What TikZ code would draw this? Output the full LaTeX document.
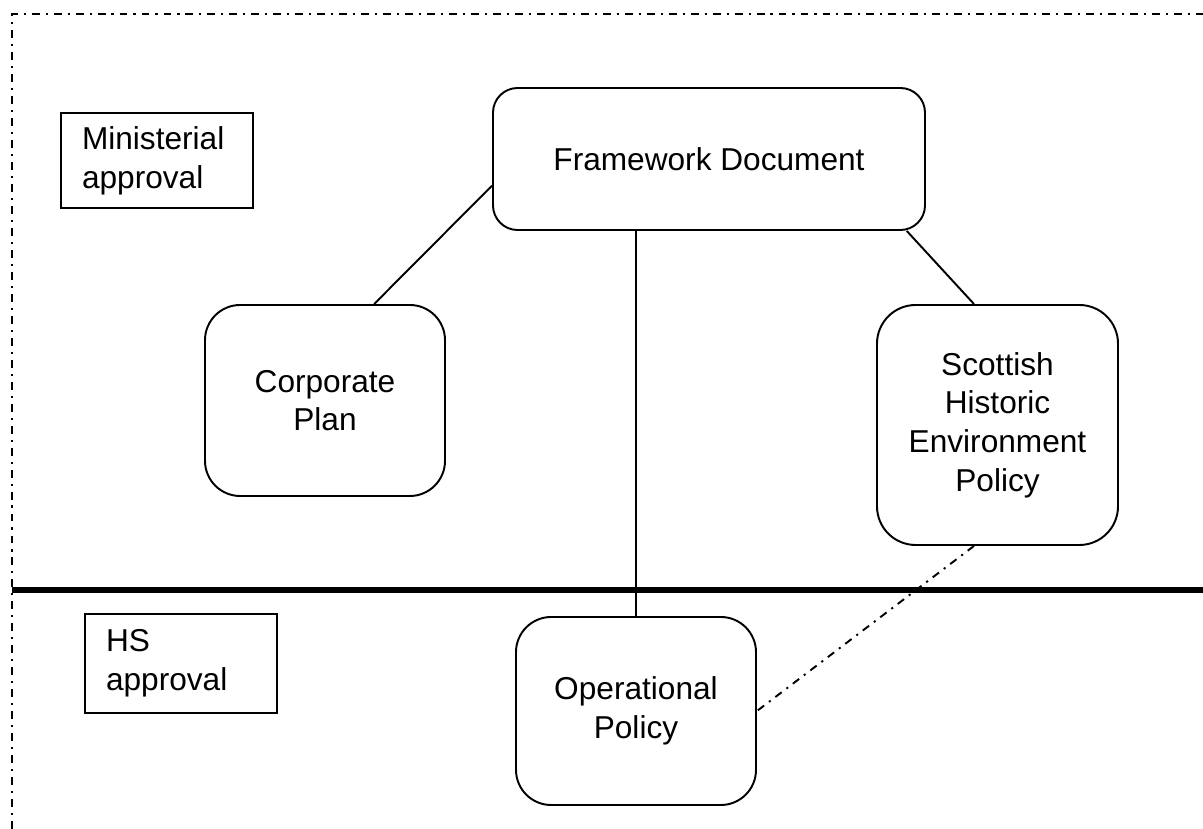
\documentclass[tikz,border=0pt]{standalone}
\usepackage{fontspec}
\setmainfont{Liberation Sans}
\usepackage{tikz}
\usetikzlibrary{positioning}
\usetikzlibrary{calc}
\tikzstyle{docbox}=[rectangle,draw,line width=1.1pt,align=center,inner sep=2pt]
\tikzstyle{approvalbox}=[rectangle,draw,line width=1.1pt,align=left,text width=3cm,inner xsep=0.42cm]
\tikzstyle{link} = [draw,line width=1.1pt]
\tikzstyle{softlink} = [draw,line width=1.1pt,dash pattern=on 4.5pt off 3.4pt on 1.2pt off 3.4pt]
\tikzstyle{frameline} = [draw,line width=1.1pt,dash pattern=on 4.5pt off 3.4pt on 1.2pt off 3.4pt]
\tikzset{txt/.style={font=\fontsize{18}{22}\selectfont}}

\begin{document}
\begin{tikzpicture}[txt]

 \useasboundingbox (0,0) rectangle (24.06,-16.58);

 %frame and divider
 \draw[frameline] (0.24,-16.58) -- (0.24,-0.28) -- (24.06,-0.28);
 \draw[line width=3.4pt] (0.24,-11.8) -- (24.06,-11.8);

 %approval levels
 \foreach \x/\y/\h/\name/\label in {3.14/-3.21/1.9/minapp/{Ministerial\\approval}, 3.62/-13.27/1.98/hsapp/{HS\\approval}}
   \node[approvalbox, minimum height=\h cm] (\name) at (\x,\y) {\label};

 %documents
 \foreach \x/\y/\w/\h/\r/\name/\label in {
     14.18/-3.18/8.64/2.84/14/fw/{Framework Document},
     6.5/-8.01/4.8/3.82/20/cp/{Corporate\\Plan},
     19.95/-8.5/4.82/4.8/22/shep/{Scottish\\Historic\\Environment\\Policy},
     12.72/-14.22/4.8/3.76/20/op/{Operational\\Policy}}
   \node[docbox, rounded corners=\r pt, minimum width=\w cm, minimum height=\h cm] (\name) at (\x,\y) {\label};

 %links
 \path[link] (fw.187) -- (cp.63);
 \path[link] (fw.-20) -- (shep.101);
 \path[link] (op.north) -- (op.north |- fw.south);
 \path[softlink] (shep.259) -- (op.east);

\end{tikzpicture}
\end{document}
